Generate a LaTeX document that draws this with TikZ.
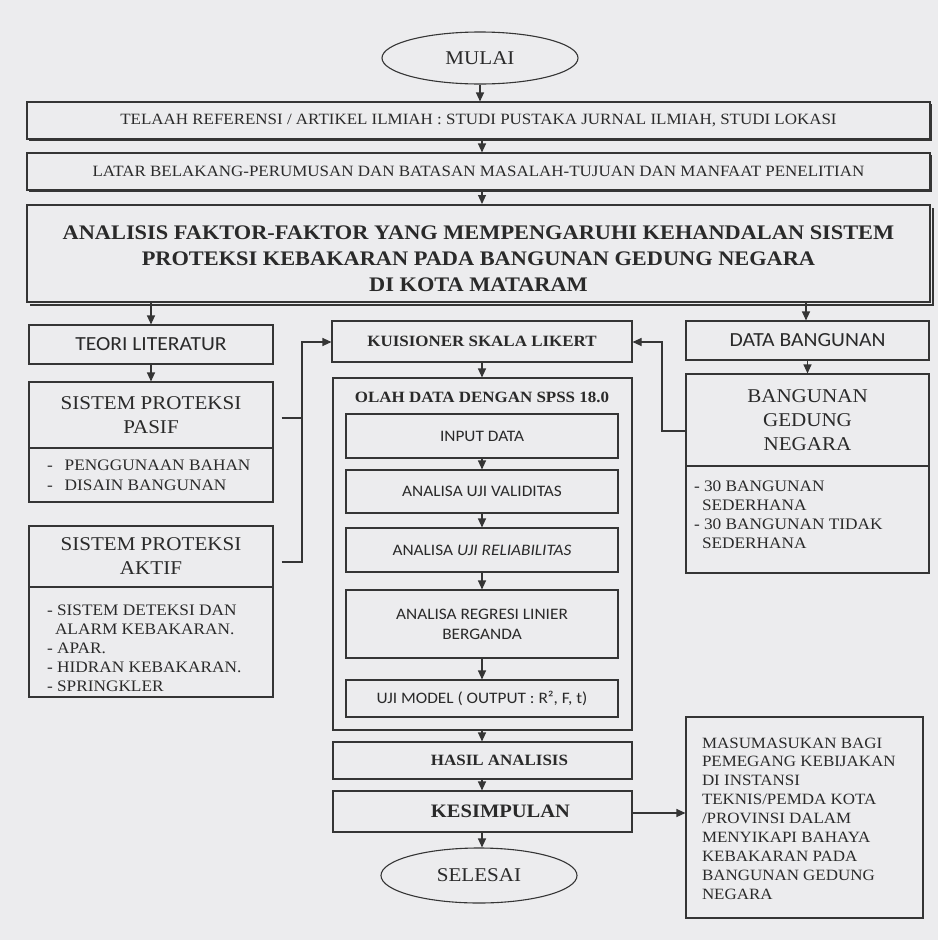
\documentclass[tikz,border=0pt]{standalone}
\usepackage{fontspec}
\setmainfont{Liberation Serif}[FakeStretch=1.08]
\newfontfamily\carl{Carlito}[FakeStretch=1.08]
\usetikzlibrary{arrows.meta,shapes.geometric}
\definecolor{paper}{HTML}{ECECEE}
\definecolor{ink}{HTML}{353535}
\definecolor{txt}{HTML}{2A2A2A}
\newcommand{\fs}[2]{\fontsize{#1}{#2}\selectfont}
\newcommand{\lbox}[3]{\parbox[c][#1][t]{#2}{\raggedright #3}}
\begin{document}
\begin{tikzpicture}[x=1pt,y=-1pt,
  box/.style={draw=ink, line width=1.1pt, rectangle, inner sep=0pt, text=txt, align=center},
  oval/.style={draw=ink, line width=1.1pt, ellipse, inner sep=0pt, text=txt},
  arr/.style={draw=ink, line width=1.1pt, -{Triangle[length=9pt,width=8pt]}},
  conn/.style={draw=ink, line width=1.1pt},
  shadowline/.style={draw=ink, line width=1.2pt},
  small/.style={font=\fs{15.7}{18}},
  smallb/.style={font=\fs{15.7}{18}\bfseries},
  sans/.style={font=\carl\fs{16}{20}},
  head/.style={font=\fs{19.5}{24}}
]
\fill[paper] (0,0) rectangle (938,940);
\useasboundingbox (0,0) rectangle (938,940);

% top flow
\node[oval, head, minimum width=196pt, minimum height=52pt] (mulai) at (480,58) {MULAI};
\draw[shadowline] (29,140.5) -- (931.5,140.5) -- (931.5,104);
\node[box, small, minimum width=903pt, minimum height=37pt] (b1) at (478.5,120.5)
  {TELAAH REFERENSI / ARTIKEL ILMIAH : STUDI PUSTAKA JURNAL ILMIAH, STUDI LOKASI};
\draw[shadowline] (29,191.5) -- (931.5,191.5) -- (931.5,155);
\node[box, small, minimum width=903pt, minimum height=37pt] (b2) at (478.5,171.5)
  {LATAR BELAKANG-PERUMUSAN DAN BATASAN MASALAH-TUJUAN DAN MANFAAT PENELITIAN};
\draw[ink, line width=2pt] (30,304.5) -- (932.5,304.5) -- (932.5,208);
\node[box, line width=2pt, minimum width=903pt, minimum height=97pt] (b3) at (478.5,253.5) {};
\node[text=txt, align=center, inner sep=0pt, font=\fs{20.7}{26}\bfseries] (b3t) at (478.5,258.5)
  {ANALISIS FAKTOR-FAKTOR YANG MEMPENGARUHI KEHANDALAN SISTEM\\
   PROTEKSI KEBAKARAN PADA BANGUNAN GEDUNG NEGARA\\
   DI KOTA MATARAM};

% left column
\node[box, font=\carl\fs{20}{22}, minimum width=244pt, minimum height=39pt] (teori) at (151,344.5) {TEORI LITERATUR};
\node[box, head, minimum width=244pt, minimum height=66pt] (pasifT) at (151,415)
  {SISTEM PROTEKSI\\PASIF};
\node[box, font=\fs{16}{20}, inner xsep=18pt, inner ysep=11.4pt] (pasifL) at (151,475)
  {\lbox{31.2pt}{208pt}{-\hspace{12pt}PENGGUNAAN BAHAN\\-\hspace{12pt}DISAIN BANGUNAN}};
\node[box, head, minimum width=244pt, minimum height=61pt] (aktifT) at (151,556.5)
  {SISTEM PROTEKSI\\AKTIF};
\node[box, font=\fs{16}{19}, inner xsep=18pt, inner ysep=14.4pt] (aktifL) at (151,642)
  {\lbox{81.2pt}{208pt}{\vspace*{3pt}- SISTEM DETEKSI DAN\\\hspace*{8pt}ALARM KEBAKARAN.\\- APAR.\\- HIDRAN KEBAKARAN.\\- SPRINGKLER}};

% middle column
\node[box, smallb, minimum width=300pt, minimum height=41pt] (kuis) at (482,341.5) {KUISIONER SKALA LIKERT};
\node[box, minimum width=299pt, minimum height=352pt] (olah) at (482.5,554) {};
\node[smallb, text=txt, inner sep=0pt, anchor=base] (olahT) at (482,402) {OLAH DATA DENGAN SPSS 18.0};
\node[box, sans, minimum width=272pt, minimum height=44pt] (i1) at (482,436) {INPUT DATA};
\node[box, sans, minimum width=272pt, minimum height=43pt] (i2) at (482,491.5) {ANALISA UJI VALIDITAS};
\node[box, sans, minimum width=272pt, minimum height=44pt] (i3) at (482,550) {ANALISA \textit{UJI RELIABILITAS}};
\node[box, sans, minimum width=272pt, minimum height=68pt] (i4) at (482,624)
  {ANALISA REGRESI LINIER\\BERGANDA};
\node[box, sans, minimum width=272pt, minimum height=37pt] (i5) at (482,698.5) {UJI MODEL ( OUTPUT : R², F, t)};
\node[box, smallb, minimum width=299pt, minimum height=37pt] (hasil) at (482.5,760.5) {\hspace*{34pt}HASIL ANALISIS};
\node[box, font=\fs{19}{22}\bfseries, minimum width=299pt, minimum height=41pt] (kesim) at (482.5,811.5) {\hspace*{36pt}KESIMPULAN};
\node[oval, head, minimum width=196pt, minimum height=55pt] (selesai) at (479,875.5) {SELESAI};

% right column
\node[box, font=\carl\fs{20}{22}, minimum width=243pt, minimum height=39pt] (data) at (807.5,340.5) {DATA BANGUNAN};
\node[box, head, minimum width=243pt, minimum height=92pt] (bgnT) at (807.5,420)
  {BANGUNAN\\GEDUNG\\NEGARA};
\node[box, font=\fs{16}{19}, inner xsep=8pt, inner ysep=14.4pt] (bgnL) at (807.5,519.5)
  {\lbox{78.2pt}{227pt}{-\ 30 BANGUNAN\\\hspace*{8pt}SEDERHANA\\-\ 30 BANGUNAN TIDAK\\\hspace*{8pt}SEDERHANA}};
\node[box, font=\fs{15.7}{18.9}, inner xsep=16pt, inner ysep=20.6pt] (masuk) at (804.5,817.5)
  {\lbox{159.8pt}{205pt}{MASUMASUKAN BAGI\\PEMEGANG KEBIJAKAN\\DI INSTANSI\\TEKNIS/PEMDA KOTA\\/PROVINSI DALAM\\MENYIKAPI BAHAYA\\KEBAKARAN PADA\\BANGUNAN GEDUNG\\NEGARA}};

% connectors
\draw[arr] (mulai.south) -- (b1.north -| mulai.south);
\draw[arr] (b1.south -| 482,0) -- (b2.north -| 482,0);
\draw[arr] (b2.south -| 482,0) -- (b3.north -| 482,0);
\draw[arr] (b3.south -| teori.north) -- (teori.north);
\draw[arr] (b3.south -| 806,0) -- (data.north -| 806,0);
\draw[arr] (teori.south) -- (pasifT.north);
\draw[arr] (data.south) -- (bgnT.north);
\draw[arr] (kuis.south) -- (olah.north -| kuis.south);
\draw[arr] (i1.south) -- (i2.north);
\draw[arr] (i2.south) -- (i3.north);
\draw[arr] (i3.south) -- (i4.north);
\draw[arr] (i4.south) -- (i5.north);
\draw[arr] (olah.south -| i5.south) -- (hasil.north -| i5.south);
\draw[arr] (hasil.south -| i5.south) -- (kesim.north -| i5.south);
\draw[arr] (kesim.south -| i5.south) -- (selesai.north -| i5.south);
\draw[arr] (kesim.east |- 0,813) -- (masuk.west |- 0,813);
\coordinate (lj) at (302,562);
\draw[conn] ([xshift=8pt]pasifT.east |- 0,418) -- (302,418);
\draw[arr] ([xshift=8pt]aktifT.east |- lj) -- (lj) -- (302,342) -- (kuis.west |- 0,342);
\draw[arr] (bgnT.west |- 0,431) -- (662,431) -- (662,342) -- (kuis.east |- 0,342);
\end{tikzpicture}
\end{document}
